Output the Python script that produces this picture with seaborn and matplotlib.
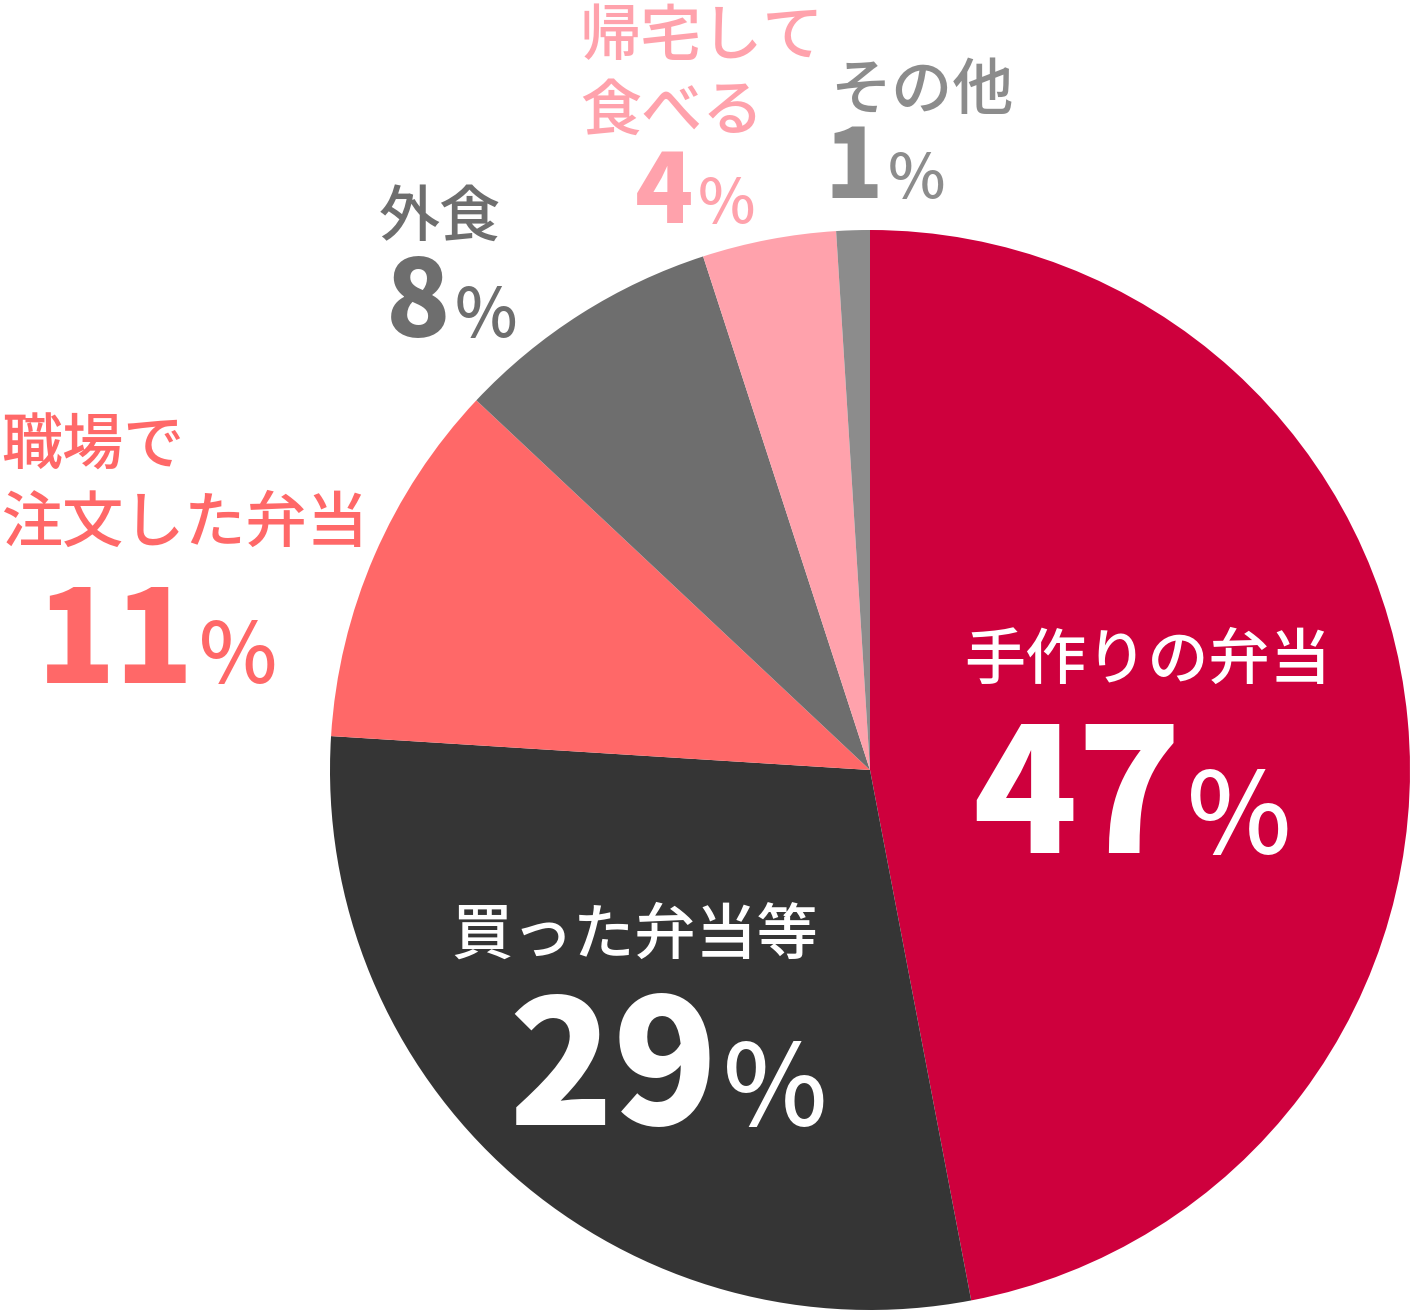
import matplotlib
matplotlib.use('Agg')
import matplotlib.pyplot as plt
import seaborn as sns

# Data
categories = ['手作りの弁当', '買った弁当等', '職場で\n注文した弁当', '外食', '帰宅して\n食べる', 'その他']
values = [47, 29, 11, 8, 4, 1]
colors = ['#CE003D', '#353535', '#FF6868', '#6E6E6E', '#FFA2AC', '#8C8C8C']

sns.set_theme(style='white')
plt.rcParams['font.family'] = ['Noto Sans CJK JP', 'DejaVu Sans']

W, H = 1410, 1310
fig = plt.figure(figsize=(W / 100, H / 100), dpi=100)

# pie centre (870, 770) px, radius 540 px
cx, cy, r = 870, 770, 540
ax = fig.add_axes([(cx - r) / W, (H - cy - r) / H, 2 * r / W, 2 * r / H])
ax.pie(values, colors=colors, startangle=90, counterclock=False, radius=1,
       wedgeprops={'linewidth': 0})
ax.set_xlim(-1, 1)
ax.set_ylim(-1, 1)
ax.set_aspect('equal')
ax.axis('off')


def px(x, y):
    return x / W, 1 - y / H


# label layout: (name x, first line centre y, ha, line step, name colour,
#                number split x, number baseline, number size, pct size)
layout = [
    (1148, 654, 'center', 76, 'white', 1182, 853, 124, 80),
    (635, 929, 'center', 76, 'white', 718, 1125, 124, 80),
    (1, 440, 'left', 77, None, 194, 683, 93, 60),
    (379, 211, 'left', 76, None, 450, 337, 76, 48),
    (580, 30, 'left', 75, None, 693, 223, 69, 44),
    (830, 84, 'left', 74, None, 883, 198, 69, 44),
]

for cat, val, col, (nx, ny, ha, step, ncol, sx, by, nsz, psz) in zip(
        categories, values, colors, layout):
    tc = ncol if ncol else col
    for i, line in enumerate(cat.split('\n')):
        fig.text(*px(nx, ny + i * step), line, color=tc, fontsize=44,
                 fontweight='medium', ha=ha, va='center_baseline')
    fig.text(*px(sx, by), str(val), color=tc, fontsize=nsz,
             fontweight='black', ha='right', va='baseline')
    fig.text(*px(sx + 5, by), '%', color=tc, fontsize=psz,
             fontweight='medium', ha='left', va='baseline')

fig.savefig('out.png', dpi=100)
